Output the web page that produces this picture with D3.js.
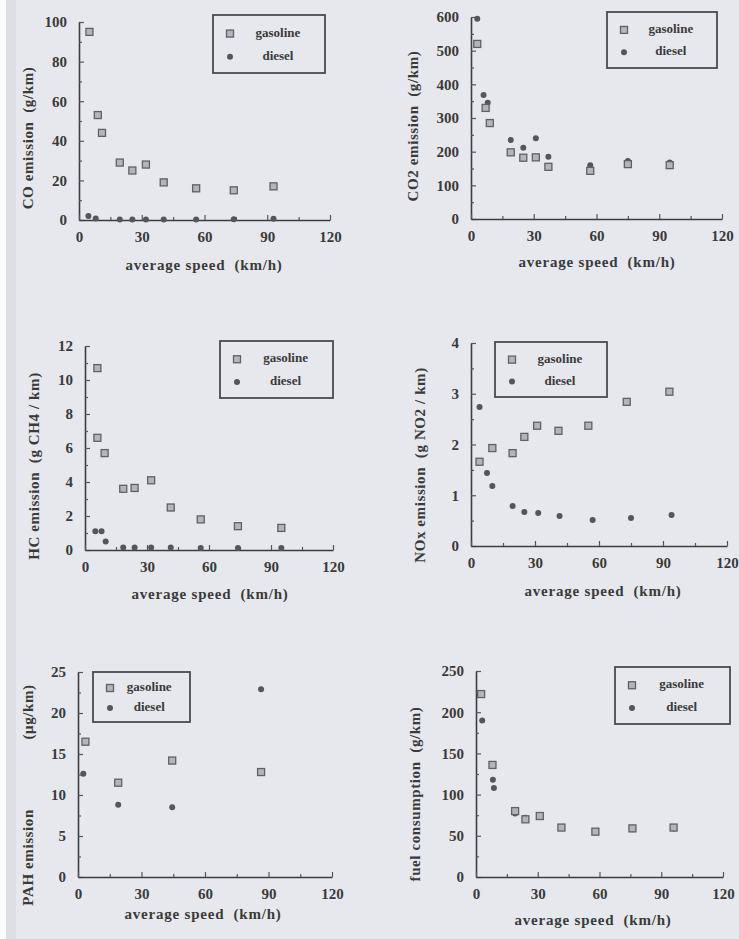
<!DOCTYPE html>
<html>
<head>
<meta charset="utf-8">
<script src="https://cdn.jsdelivr.net/npm/d3@7/dist/d3.min.js"></script>
<style>
  body { margin: 0; background: #e6e8ed; }
  svg { display: block; }
  text { font-family: "Liberation Serif", "DejaVu Serif", serif; fill: #3a3a3a; white-space: pre; }
</style>
</head>
<body>
<script>
// speed (km/h), value
var coGasoline = [[5, 95], [9, 53], [11, 44], [19.5, 29], [25.5, 25], [32, 28], [40.5, 19], [56, 16], [74, 15], [93, 17]];
var coDiesel = [[4.5, 2], [8, 0.8], [19.5, 0.3], [25.5, 0.3], [32, 0.3], [40.5, 0.3], [56, 0.3], [74, 0.4], [93, 0.6]];

var co2Gasoline = [[3, 520], [7, 330], [9, 285], [19, 198], [25, 182], [31, 183], [37, 155], [57, 143], [75, 163], [95, 160]];
var co2Diesel = [[3, 595], [6, 368], [8, 345], [19, 235], [25, 212], [31, 240], [37, 185], [57, 160], [75, 172], [95, 168]];

var hcGasoline = [[6, 10.7], [6, 6.6], [9.5, 5.7], [18.5, 3.6], [24, 3.65], [32, 4.1], [41.5, 2.5], [56, 1.8], [74, 1.4], [95, 1.3]];
var hcDiesel = [[5, 1.1], [8, 1.1], [10, 0.5], [18.5, 0.15], [24, 0.15], [32, 0.15], [41.5, 0.15], [56, 0.12], [74, 0.12], [95, 0.12]];

var noxGasoline = [[4, 1.66], [10, 1.93], [19.5, 1.83], [25, 2.15], [31, 2.37], [41, 2.27], [55, 2.37], [73, 2.84], [93, 3.04]];
var noxDiesel = [[4, 2.74], [7.5, 1.44], [10, 1.18], [19.5, 0.79], [25, 0.67], [31.5, 0.65], [41.5, 0.59], [57, 0.51], [75, 0.55], [94, 0.61]];

var pahGasoline = [[3.5, 16.5], [19, 11.5], [44.5, 14.2], [86.5, 12.8]];
var pahDiesel = [[2.5, 12.6], [19, 8.8], [44.5, 8.5], [86.5, 22.9]];

var fuelGasoline = [[2.5, 222], [8, 136], [19, 80], [24, 70], [31, 74], [41.5, 60], [58, 55], [76, 59], [96, 60]];
var fuelDiesel = [[3, 190], [8.2, 118], [8.7, 108], [19, 77], [24, 72], [31, 75], [41.5, 60], [58, 55], [76, 58], [96, 59]];

var xTicks = [0, 30, 60, 90, 120];
var seriesNames = ["gasoline", "diesel"];

var svg = d3.select("body").append("svg")
    .attr("width", 739)
    .attr("height", 939);

// scanned paper look
svg.append("rect").attr("width", 739).attr("height", 939).attr("fill", "#e6e8ed");
svg.append("rect").attr("width", 6).attr("height", 939).attr("fill", "#fbfbfc");
svg.append("rect").attr("x", 6).attr("width", 10).attr("height", 939).attr("fill", "#dcdee4");

var panels = [
    {gas: coGasoline, die: coDiesel, yMax: 100, yStep: 20, x0: 79, x1: 330, y0: 220, y1: 22,
     title: "CO emission  (g/km)", tx: 30, ty: 138, xlx: 204, xly: 267, leg: [213, 15, 112, 58]},
    {gas: co2Gasoline, die: co2Diesel, yMax: 600, yStep: 100, x0: 471, x1: 722, y0: 219, y1: 17,
     title: "CO2 emission  (g/km)", tx: 415, ty: 126, xlx: 597, xly: 264, leg: [607, 12, 110, 56]},
    {gas: hcGasoline, die: hcDiesel, yMax: 12, yStep: 2, x0: 85, x1: 333, y0: 550, y1: 346,
     title: "HC emission  (g CH4 / km)", tx: 36, ty: 466, xlx: 210, xly: 596, leg: [220, 341, 113, 57]},
    {gas: noxGasoline, die: noxDiesel, yMax: 4, yStep: 1, x0: 471, x1: 727, y0: 546, y1: 343,
     title: "NOx emission  (g NO2 / km)", tx: 422, ty: 465, xlx: 603, xly: 593, leg: [495, 342, 112, 55]},
    {gas: pahGasoline, die: pahDiesel, yMax: 25, yStep: 5, x0: 78, x1: 332, y0: 877, y1: 672,
     title: "PAH emission                (\u03bcg/km)", tx: 30, ty: 795, xlx: 203, xly: 916, leg: [93, 672, 97, 50]},
    {gas: fuelGasoline, die: fuelDiesel, yMax: 250, yStep: 50, x0: 476, x1: 723, y0: 877, y1: 671,
     title: "fuel consumption  (g/km)", tx: 417, ty: 794, xlx: 593, xly: 922, leg: [615, 667, 115, 57]}
];

function gasMark(g, x, y) {
    g.append("rect")
        .attr("x", x - 3.5).attr("y", y - 3.5)
        .attr("width", 7).attr("height", 7)
        .attr("fill", "#b3b5ba").attr("stroke", "#606166").attr("stroke-width", 1.3);
}

function dieselMark(g, x, y) {
    g.append("circle")
        .attr("cx", x).attr("cy", y).attr("r", 3)
        .attr("fill", "#55565b");
}

panels.forEach(function (p) {
    var x = d3.scaleLinear().domain([0, 120]).range([p.x0, p.x1]);
    var y = d3.scaleLinear().domain([0, p.yMax]).range([p.y0, p.y1]);
    var g = svg.append("g");

    // y axis, ticks pointing inward
    var yAxis = d3.axisLeft(y).tickValues(d3.range(0, p.yMax + 0.001, p.yStep))
        .tickFormat(d3.format("~g"))
        .tickSizeInner(-5).tickSizeOuter(0).tickPadding(12);
    g.append("g").attr("transform", "translate(" + p.x0 + ",0)").call(yAxis);
    var yMinor = d3.axisLeft(y).tickValues(d3.range(p.yStep / 2, p.yMax, p.yStep))
        .tickSize(-3).tickFormat("");
    g.append("g").attr("transform", "translate(" + p.x0 + ",0)").call(yMinor)
        .select(".domain").remove();

    var xAxis = d3.axisBottom(x).tickValues(xTicks)
        .tickSizeInner(-5).tickSizeOuter(0).tickPadding(11);
    g.append("g").attr("transform", "translate(0," + p.y0 + ")").call(xAxis);
    var xMinor = d3.axisBottom(x).tickValues([15, 45, 75, 105]).tickSize(-3).tickFormat("");
    g.append("g").attr("transform", "translate(0," + p.y0 + ")").call(xMinor)
        .select(".domain").remove();

    g.selectAll(".domain").attr("stroke", "#3c3c40").attr("stroke-width", 1.6);
    g.selectAll(".tick line").attr("stroke", "#55565a").attr("stroke-width", 1.2);
    g.selectAll(".tick text")
        .style("font-family", "'Liberation Serif', serif")
        .style("font-size", "15px").style("font-weight", "bold")
        .attr("fill", "#3d3d42");

    // axis titles
    g.append("text")
        .attr("transform", "translate(" + p.tx + "," + p.ty + ") rotate(-90)")
        .attr("text-anchor", "middle").attr("dominant-baseline", "middle")
        .style("font-size", "15px").style("font-weight", "bold")
        .style("letter-spacing", "0.6px")
        .attr("fill", "#55565c")
        .text(p.title);
    g.append("text")
        .attr("x", p.xlx).attr("y", p.xly)
        .attr("text-anchor", "middle").attr("dominant-baseline", "middle")
        .style("font-size", "15px").style("font-weight", "bold")
        .style("letter-spacing", "0.8px")
        .attr("fill", "#6a6b70")
        .text("average speed  (km/h)");

    // points
    p.die.forEach(function (d) { dieselMark(g, x(d[0]), y(d[1])); });
    p.gas.forEach(function (d) { gasMark(g, x(d[0]), y(d[1])); });

    // legend
    var L = p.leg;
    g.append("rect").attr("x", L[0]).attr("y", L[1]).attr("width", L[2]).attr("height", L[3])
        .attr("fill", "none").attr("stroke", "#4a4b50").attr("stroke-width", 1.8);
    seriesNames.forEach(function (name, i) {
        var ry = L[1] + L[3] * (i === 0 ? 0.32 : 0.72);
        if (i === 0) gasMark(g, L[0] + 17, ry); else dieselMark(g, L[0] + 17, ry);
        g.append("text")
            .attr("x", L[0] + L[2] * 0.58).attr("y", ry)
            .attr("text-anchor", "middle").attr("dominant-baseline", "middle")
            .style("font-size", "13px").style("font-weight", "bold")
            .attr("fill", "#4e4f55")
            .text(name);
    });
});
</script>
</body>
</html>
